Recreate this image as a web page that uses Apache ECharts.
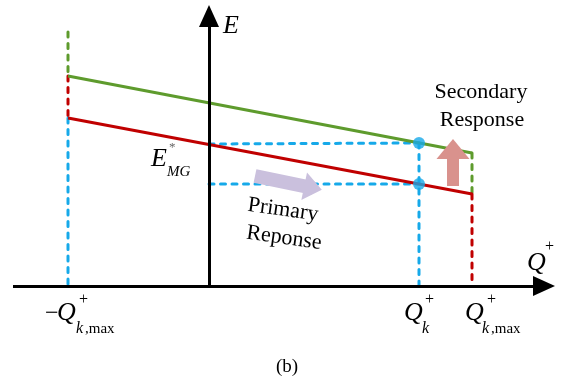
<!DOCTYPE html>
<html>
<head>
<meta charset="utf-8">
<script src="https://cdn.jsdelivr.net/npm/echarts@6/dist/echarts.min.js"></script>
<style>
html,body{margin:0;padding:0;background:#fff;}
#c{width:574px;height:382px;}
</style>
</head>
<body>
<div id="c"></div>
<script>
// ---- schematic values (Q on x, E on y; origin at axis crossing) ----
const qNegMax = -141;      // -Q+_k,max
const qK = 210;            // Q+_k
const qMax = 263;          // Q+_k,max
const qEnds = [qNegMax, qMax];
const greenE = [210, 133];  // E at -Qmax, Qmax (after secondary response)
const redE = [168, 92];     // E at -Qmax, Qmax (initial)
const greenTop = 254;       // top of green dashed at -Qmax
const eStar = 142;          // E*_MG on axis
const opE = [143, 102];     // operating points at Q_k (green, red)
const primaryLow = 102;     // lower dashed level
const xAxisSpan = [-196, 335];
const yAxisSpan = [0, 270];
const primaryArrow = [[46, 110], [104, 98]];
const secondaryArrow = [[244, 100], [244, 137]];

const GREEN = '#5e9b2d', RED = '#c00000', BLUE = '#16a9e9';
const FONT = '"Liberation Serif","Times New Roman",serif';

function seg(data, color, dashed, z) {
  return {
    type: 'line', data: data, symbol: 'none', silent: true, z: z || 2,
    lineStyle: { color: color, width: 3, type: dashed ? [5, 6.5] : 'solid', cap: dashed ? 'round' : 'butt' },
    animation: false
  };
}

function arrow(from, to, color, width, head, z) {
  return {
    type: 'line', data: [], z: z, animation: false,
    markLine: {
      silent: true, animation: false, symbol: ['none', 'triangle'], symbolSize: head,
      label: { show: false },
      lineStyle: { color: color, width: width, type: 'solid', opacity: 1 },
      itemStyle: { color: color },
      data: [[{ coord: from }, { coord: to }]]
    }
  };
}

const series = [
  seg([[qEnds[0], greenE[0]], [qEnds[1], greenE[1]]], GREEN, false, 3),
  seg([[qEnds[0], redE[0]], [qEnds[1], redE[1]]], RED, false, 3),
  seg([[qNegMax, greenTop], [qNegMax, greenE[0]]], GREEN, true),
  seg([[qNegMax, greenE[0]], [qNegMax, redE[0]]], RED, true),
  seg([[qNegMax, redE[0]], [qNegMax, 0]], BLUE, true),
  seg([[qMax, greenE[1]], [qMax, redE[1]]], GREEN, true),
  seg([[qMax, redE[1]], [qMax, 0]], RED, true),
  seg([[qK, opE[0]], [qK, 0]], BLUE, true),
  seg([[0, eStar], [qK, opE[0]]], BLUE, true),
  seg([[0, primaryLow], [qK, opE[1]]], BLUE, true),
  {
    type: 'scatter', data: [[qK, opE[0]], [qK, opE[1]]], symbolSize: 12,
    itemStyle: { color: BLUE }, z: 6, silent: true, animation: false
  },
  arrow([xAxisSpan[0], 0], [xAxisSpan[1], 0], '#000', 3, [20, 22], 5),
  arrow([0, yAxisSpan[0]], [0, yAxisSpan[1]], '#000', 3, [20, 22], 5),
  arrow(primaryArrow[0], primaryArrow[1], '#cac0dd', 14, [28, 18], 4),
  arrow(secondaryArrow[0], secondaryArrow[1], '#d9928d', 12, [33, 20], 4)
];

function txt(x, y, s, size, opts) {
  opts = opts || {};
  return {
    type: 'text', x: x, y: y, rotation: opts.rot || 0, z: 10, silent: true,
    style: {
      text: s, fill: opts.fill || '#000',
      font: (opts.italic ? 'italic ' : '') + size + 'px ' + FONT,
      textAlign: opts.align || 'left', textVerticalAlign: 'middle'
    }
  };
}

const graphic = [
  txt(223, 26, 'E', 26, { italic: true }),
  txt(527, 263, 'Q', 26, { italic: true }),
  txt(545, 247, '+', 16),
  txt(151, 159, 'E', 26, { italic: true }),
  txt(169, 148, '*', 13, { fill: '#666' }),
  txt(167, 172, 'MG', 15, { italic: true }),
  txt(283, 210, 'Primary', 22, { align: 'center', rot: -0.14 }),
  txt(284, 238, 'Reponse', 22, { align: 'center', rot: -0.14 }),
  txt(481, 92, 'Secondary', 22, { align: 'center' }),
  txt(482, 120, 'Response', 22, { align: 'center' }),
  // -Q+_k,max
  txt(45, 314, '\u2212', 24),
  txt(57, 313, 'Q', 26, { italic: true }),
  txt(79, 300, '+', 16),
  txt(76, 329, 'k', 16, { italic: true }),
  txt(85, 329, ',max', 15),
  // Q+_k
  txt(404, 313, 'Q', 26, { italic: true }),
  txt(425, 300, '+', 16),
  txt(422, 329, 'k', 16, { italic: true }),
  // Q+_k,max
  txt(465, 313, 'Q', 26, { italic: true }),
  txt(487, 300, '+', 16),
  txt(482, 329, 'k', 16, { italic: true }),
  txt(491, 329, ',max', 15),
  txt(287, 367, '(b)', 19, { align: 'center' })
];

const chart = echarts.init(document.getElementById('c'), null, { renderer: 'canvas' });
chart.setOption({
  animation: false,
  backgroundColor: '#fff',
  grid: { left: 0, right: 0, top: 0, bottom: 0 },
  xAxis: { type: 'value', min: -209, max: 365, show: false },
  yAxis: { type: 'value', min: -96, max: 286, show: false },
  series: series,
  graphic: graphic
});
</script>
</body>
</html>
